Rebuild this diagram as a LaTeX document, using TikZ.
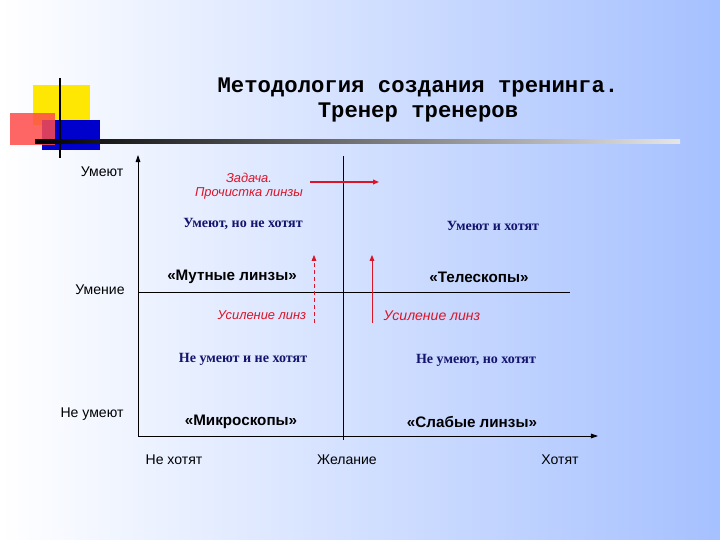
\documentclass[tikz,border=0pt]{standalone}
\usepackage{fontspec}
\setmainfont{Liberation Serif}
\setsansfont{Liberation Sans}
\newfontfamily\titlefont{Liberation Mono}
\usetikzlibrary{arrows.meta}
\definecolor{navy}{RGB}{20,20,110}
\definecolor{lred}{RGB}{220,20,40}
\tikzset{x=0.03cm,y=-0.03cm,
 ax/.style={black,line width=0.7pt},
 lab/.style={font=\sffamily\fontsize{12}{14}\selectfont},
 quad/.style={font=\bfseries\fontsize{12}{14}\selectfont,text=navy},
 lens/.style={font=\sffamily\bfseries\fontsize{13}{15}\selectfont},
 redt/.style={font=\sffamily\itshape\fontsize{11}{12}\selectfont,text=lred,align=center},
 redarr/.style={lred,line width=1pt,-{Triangle[length=5pt,width=4pt]}}}
\begin{document}
\begin{tikzpicture}
\shade[left color=white,right color=cyan!30!blue!35!white] (0,0) rectangle (720,540);
\useasboundingbox (0,0) rectangle (720,540);
% decoration
\fill[yellow!90!orange] (33,85) rectangle (90,125);
\fill[blue!80!black] (42,120) rectangle (100,150);
\fill[red!70,opacity=0.85] (10,113) rectangle (55,145);
\draw[black,line width=1.2pt] (60,78) -- (60,158);
\shade[left color=black,right color=gray!20] (35,140) rectangle (680,143.5);
\node[font=\titlefont\bfseries\fontsize{19}{22}\selectfont,align=center] (title) at (418,100) {Методология создания тренинга.\\Тренер тренеров};
% axes
\coordinate (o) at (138,436);
\coordinate (yt) at (138,155);
\coordinate (xr) at (598,436);
\draw[ax,-{Triangle[length=6pt,width=4pt]}] (o) -- (yt);
\draw[ax,-{Triangle[length=6pt,width=4pt]}] (o) -- (xr);
\coordinate (vt) at (343,156);
\coordinate (vb) at (343,440);
\draw[ax] (vt) -- (vb);
\coordinate (hl) at (138,292);
\coordinate (hr) at (570,292);
\draw[ax] (hl) -- (hr);
% axis labels
\node[lab] (l1) at (102,172) {Умеют};
\node[lab] (l2) at (100,290) {Умение};
\node[lab] (l3) at (92,414) {Не умеют};
\node[lab] (l4) at (174,460) {Не хотят};
\node[lab] (l5) at (347,460) {Желание};
\node[lab] (l6) at (560,460) {Хотят};
% quadrants
\node[quad] (q1) at (243,224) {Умеют, но не хотят};
\node[quad] (q2) at (493,226) {Умеют и хотят};
\node[quad] (q3) at (243,359) {Не умеют и не хотят};
\node[quad] (q4) at (476,360) {Не умеют, но хотят};
\node[lens] (m1) at (232,277) {«Мутные линзы»};
\node[lens] (m2) at (479,277) {«Телескопы»};
\node[lens] (m3) at (241,422) {«Микроскопы»};
\node[lens] (m4) at (472,422) {«Слабые линзы»};
% red
\node[redt] (task) at (249,186) {Задача.\\Прочистка линзы};
\coordinate (a1) at (310,182);
\coordinate (a2) at (379,182);
\draw[redarr] (a1) -- (a2);
\node[redt] (u1) at (262,315) {Усиление линз};
\node[redt,font=\sffamily\itshape\fontsize{12}{13}\selectfont] (u2) at (432,316) {Усиление линз};
\coordinate (d1) at (314,323);
\coordinate (d2) at (314,255);
\draw[redarr,dashed,line width=0.7pt] (d1) -- (d2);
\coordinate (s1) at (372,323);
\coordinate (s2) at (372,255);
\draw[redarr,line width=0.8pt] (s1) -- (s2);
\end{tikzpicture}
\end{document}
